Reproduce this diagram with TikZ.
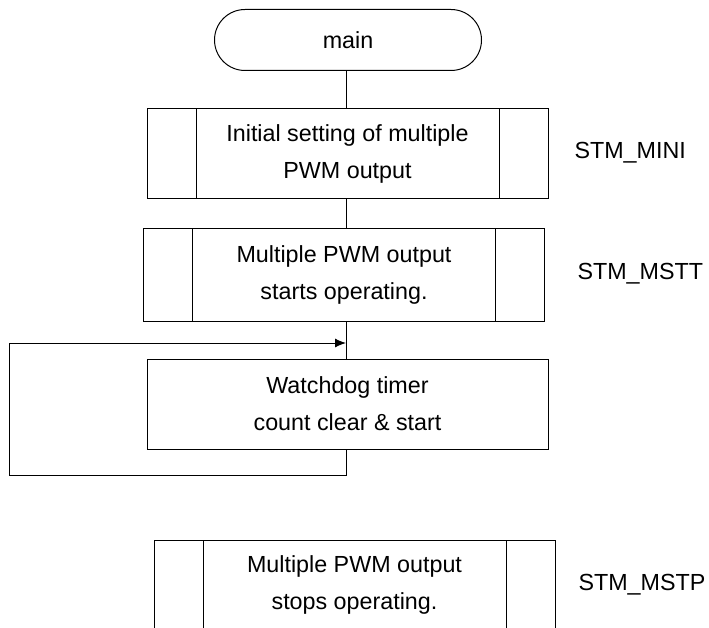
\documentclass[tikz,border=0pt]{standalone}
\usepackage{fontspec}
\setmainfont{Liberation Sans}
\usetikzlibrary{shapes.misc,arrows.meta}
\tikzset{
  flow/.style={draw,line width=1pt,align=center,
    font=\fontsize{23.3}{37}\selectfont,inner sep=0pt},
  term/.style={flow,rounded rectangle,minimum width=267pt,minimum height=61pt},
  proc/.style={flow,rectangle,minimum width=401pt,minimum height=90pt},
  subproc/.style={proc,path picture={
      \draw[line width=1pt]
        ([xshift=49pt]path picture bounding box.north west) --
        ([xshift=49pt]path picture bounding box.south west)
        ([xshift=-49pt]path picture bounding box.north east) --
        ([xshift=-49pt]path picture bounding box.south east);}},
  fname/.style={anchor=west,font=\fontsize{23.3}{28}\selectfont,inner sep=0pt}
}
\begin{document}
\begin{tikzpicture}[x=1pt,y=-1pt,line width=1pt]
      \useasboundingbox (0,0) rectangle (709,628);
      \draw
        (348,40) node[term] (main){main}
        (347.5,154) node[subproc] (init){Initial setting of multiple\\PWM output}
        (344,275) node[subproc,minimum height=92pt] (start){Multiple PWM output\\starts operating.}
        (347.5,404) node[proc] (wdt){Watchdog timer\\count clear \& start}
        (354.5,585) node[subproc] (stop){Multiple PWM output\\stops operating.};
      \draw
        (574,153) node[fname] (mini){STM\_MINI}
        (577,274) node[fname] (mstt){STM\_MSTT}
        (578,585) node[fname] (mstp){STM\_MSTP};
      \coordinate (loopb) at (346,475);
      \coordinate (loopt) at (346,343);
      \begin{scope}[-]
        \draw (main.south -| loopt) to (init.north -| loopt);
        \draw (init.south -| loopt) to (start.north -| loopt);
        \draw (start.south -| loopt) to (wdt.north -| loopt);
      \end{scope}
      \draw[-{Latex[length=11pt,width=9pt]}] (wdt.south -| loopb) -- (loopb)
        -- (9,475) -- (9,343) -- (loopt);
    \end{tikzpicture}
\end{document}
